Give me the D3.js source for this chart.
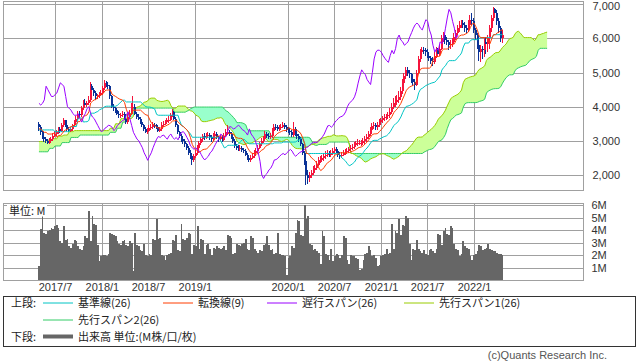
<!DOCTYPE html>
<html>
<head>
<meta charset="utf-8">
<script src="https://cdn.jsdelivr.net/npm/d3@7"></script>
<style>
body { margin: 0; background: #fff; }
svg { display: block; font-family: "Noto Sans CJK JP", "Noto Sans", sans-serif; }
</style>
</head>
<body>
<script>
// weekly bars, first bar week of 2017/4/29
var firstWeek = new Date(2017, 3, 29);
var firstOpen = 3500;

var closes = [
3400,3250,3100,3050,3000,2950,3000,3050,3150,3200,
3250,3350,3300,3450,3600,3450,3350,3300,3350,3450,
3550,3650,3800,3750,3950,4100,4050,4100,4200,4600,
4500,4400,4300,4300,4350,4400,4550,4700,4650,4600,
4300,4000,3950,3900,3800,3750,3750,3800,3650,3550,
3700,3800,3950,4000,3800,3700,3650,3550,3450,3350,
3270,3300,3370,3400,3460,3440,3400,3300,3350,3450,
3500,3550,3600,3620,3750,3850,3650,3450,3250,3150,
3050,3000,2900,2800,2650,2550,2430,2550,2650,2800,
2930,3050,3130,3100,3150,3170,3100,3050,3150,3200,
3100,3050,3100,3030,3150,3250,3270,3200,3100,3000,
2850,2800,2750,2800,2730,2700,2600,2500,2440,2500,
2550,2650,2700,2800,2900,3000,3050,3200,3150,3100,
3130,3300,3420,3400,3350,3370,3420,3460,3400,3330,
3300,3250,3170,3350,3200,3130,3050,2900,2650,2400,
2000,1900,2000,2050,2150,2200,2300,2440,2450,2490,
2550,2600,2630,2590,2650,2700,2750,2700,2600,2550,
2600,2650,2680,2700,2750,2800,2830,2880,2930,2950,
2950,2950,3000,3050,3120,3200,3320,3440,3450,3400,
3450,3550,3600,3660,3700,3720,3760,3850,4000,4100,
4150,4200,4290,4450,4690,4900,5080,5000,4950,4800,
4720,4650,5000,5400,5600,5660,5650,5600,5500,5420,
5350,5300,5500,5650,5550,5700,6000,6100,5950,5900,
5800,5850,5900,6050,6170,6300,6400,6450,6400,6300,
6250,6400,6550,6500,6250,6100,5800,5600,5700,5650,
5900,5850,6000,6300,6600,6850,6750,6500,6300,6000,6100
];

var highs = [
3550,3450,3300,3150,3100,3050,3080,3120,3220,3280,
3320,3420,3400,3520,3680,3620,3500,3400,3420,3500,
3600,3720,3880,3870,4020,4200,4220,4180,4300,4720,
4680,4560,4450,4380,4430,4480,4620,4780,4760,4720,
4650,4350,4080,4000,3950,3860,3830,3880,3850,3700,
3780,3900,4100,4300,4080,3850,3780,3700,3600,3500,
3400,3380,3450,3480,3550,3530,3500,3450,3420,3560,
3580,3620,3680,3720,3830,3920,3880,3700,3500,3300,
3200,3120,3050,2950,2850,2720,2600,2620,2720,2880,
3000,3120,3200,3220,3230,3250,3230,3160,3220,3300,
3250,3150,3180,3170,3230,3350,3450,3330,3250,3150,
3050,2920,2870,2880,2850,2800,2750,2650,2560,2580,
2630,2720,2780,2880,2980,3080,3130,3280,3260,3220,
3220,3380,3500,3500,3460,3450,3500,3550,3520,3460,
3420,3380,3330,3550,3420,3280,3200,3100,2950,2700,
2450,2150,2100,2150,2250,2300,2400,2520,2550,2580,
2650,2700,2720,2700,2730,2780,2820,2810,2750,2660,
2680,2730,2760,2780,2830,2880,2920,2960,3010,3040,
3030,3030,3080,3130,3200,3300,3400,3520,3550,3520,
3540,3630,3680,3740,3780,3800,3850,3950,4100,4250,
4300,4350,4450,4580,4800,5000,5160,5150,5080,5000,
4870,4800,5080,5500,5700,5750,5760,5720,5680,5580,
5500,5450,5600,5750,5720,5800,6100,6200,6150,6050,
5950,5950,6000,6150,6250,6400,6500,6550,6550,6480,
6400,6550,6700,6750,6600,6300,6150,5850,5800,5780,
6000,6000,6100,6400,6700,6920,6900,6830,6600,6350,6250
];

var lows = [
3300,3180,3050,2980,2950,2900,2900,2960,3000,3100,
3150,3200,3230,3260,3400,3400,3300,3250,3250,3300,
3400,3500,3600,3680,3700,3900,3980,3980,4050,4150,
4420,4320,4200,4220,4250,4300,4350,4500,4580,4520,
4220,3950,3880,3820,3750,3680,3660,3700,3600,3500,
3500,3650,3750,3900,3750,3650,3600,3500,3400,3300,
3220,3200,3250,3320,3350,3380,3350,3250,3250,3300,
3400,3450,3500,3530,3580,3700,3600,3400,3200,3080,
2980,2920,2820,2720,2600,2480,2290,2380,2500,2600,
2750,2880,2980,3030,3050,3080,3030,2980,3000,3100,
3050,2980,3000,2980,3000,3100,3180,3150,3050,2950,
2800,2730,2700,2700,2680,2650,2550,2440,2380,2390,
2460,2500,2600,2650,2750,2850,2950,3000,3080,3050,
3050,3080,3250,3330,3280,3300,3320,3370,3340,3270,
3230,3180,3100,3100,3150,3050,2980,2850,2600,2300,
1710,1750,1800,1920,2000,2080,2150,2250,2350,2380,
2420,2480,2530,2520,2540,2600,2640,2630,2540,2480,
2500,2550,2580,2610,2640,2700,2720,2770,2820,2850,
2870,2860,2880,2920,2980,3050,3150,3250,3350,3320,
3330,3400,3480,3530,3580,3620,3650,3680,3780,3920,
4000,4050,4100,4200,4380,4600,4800,4900,4850,4700,
4600,4500,4600,4950,5300,5500,5550,5500,5420,5330,
5250,5180,5250,5420,5450,5480,5650,5900,5850,5800,
5650,5700,5750,5850,5950,6100,6200,6300,6300,6200,
6150,6180,6350,6400,6150,5950,5700,5350,5300,5400,
5450,5550,5600,5700,6200,6500,6600,6400,6150,5900,5860
];

// volume, million shares per week
var volumes = [
1.1,4.1,5.2,3.8,3.7,3.9,4.0,4.2,4.1,4.3,
4.4,4.2,3.1,3.0,4.3,3.2,3.3,2.7,2.6,2.9,
3.2,3.1,2.7,2.5,2.4,2.7,3.5,3.4,5.5,3.1,
5.1,4.5,4.4,2.8,1.5,1.9,2.0,2.0,1.9,2.1,
3.8,3.7,3.6,3.5,3.1,2.9,2.8,3.1,3.2,2.8,
2.7,3.1,3.0,0.7,3.8,2.8,2.7,2.4,2.3,2.9,
2.0,1.9,2.1,2.0,3.3,3.2,4.9,3.3,3.4,2.0,
1.9,1.6,2.0,2.1,2.2,3.2,3.1,3.6,2.4,2.3,
4.5,3.3,3.2,3.4,3.8,3.7,2.1,2.8,2.7,4.3,
2.5,3.3,3.2,2.1,2.8,2.9,2.5,2.0,2.6,2.5,
2.7,2.6,2.5,2.6,2.7,2.4,3.6,3.5,3.4,2.1,
2.2,2.9,2.8,2.7,2.9,3.0,3.3,2.5,2.4,3.5,
3.4,2.5,2.3,2.2,2.4,2.3,2.8,2.9,3.5,2.8,
2.4,2.5,2.1,2.2,3.8,2.1,2.0,2.0,1.9,0.4,
1.8,1.9,2.7,2.6,3.8,4.8,4.7,3.6,3.5,6.0,
4.9,5.1,2.9,2.8,2.4,2.5,2.3,2.2,1.3,3.9,
3.5,2.1,2.0,1.6,2.5,1.5,1.9,2.1,2.0,1.8,
2.0,3.5,3.4,1.6,1.3,2.0,1.9,1.9,1.8,1.7,
0.8,0.9,1.6,2.1,2.2,2.7,2.4,1.9,2.0,1.8,
1.1,1.2,1.9,2.0,2.1,2.5,2.1,2.2,4.5,2.5,
3.9,3.8,4.9,3.6,4.4,4.3,5.1,5.0,2.9,1.6,
2.5,2.4,3.2,2.5,2.3,2.2,2.4,2.1,2.0,2.4,
2.5,2.3,2.2,2.5,3.7,3.6,2.8,3.9,4.2,3.7,
3.6,4.3,4.2,2.9,2.5,2.4,1.9,2.1,3.1,2.7,
2.6,2.5,1.9,1.6,2.0,2.1,2.3,2.8,2.7,2.4,
2.5,2.6,2.9,2.5,2.4,2.3,2.3,2.2,2.1,2.1,2.0
];

// indicator values before enough history exists on the chart
var tenkanHead = [3350,3350,3300,3250,3250,3200,3200,3200];
var kijunHead = [3320,3320,3320,3320,3320,3320,3320,3320,3320,
  3270,3270,3270,3270,3270,3270,3270,3270,3270,
  3420,3420,3420,3420,3670,3670,3670];
var span1Head = [2980,2980,2980,2980,3020,3020,3020,3020,3060,3060,
  3060,3140,3140,3140,3170,3170,3170,3270,3270,3270,
  3300,3300,3300,3300,3300,3300,3300,3300,3300,3300,
  3300,3300,3300,3300,3300,3300,3300,3300,3300,3300,
  3370,3370,3370,3500,3500,3500,3650,3650,3650,3650];
var span2Head = [2680,2680,2680,2680,2680,2680,2780,2780,2780,2850,
  2850,2850,2850,2950,2950,2950,2950,2950,3100,3100,
  3100,3100,3100,3170,3170,3170,3170,3170,3170,3170,
  3170,3170,3170,3170,3170,3170,3170,3170,3170,3170,
  3250,3250,3250,3250,3370,3370,3370,3550,3550,3550,
  3800,3800,3800,3960,3960,3960,3960,3960,3960,3960,
  3960,3960,3960,3960,3960,3960,3960,3960,3960,3960,
  3960,3960,3960,3960,3960,3960];

var priceTicks = [2000, 3000, 4000, 5000, 6000, 7000];
var volTicks = [1, 2, 3, 4, 5, 6];
var dateTicks = ["2017/7", "2018/1", "2018/7", "2019/1", "2020/1", "2020/7", "2021/1", "2021/7", "2022/1"];
var legendNames = ["基準線(26)", "転換線(9)", "遅行スパン(26)", "先行スパン1(26)", "先行スパン2(26)", "出来高 単位:(M株/口/枚)"];

var colKijun = "#00c4c4", colTenkan = "#ff3c00", colChikou = "#9a00ff",
    colSpan1 = "#99cc00", colSpan2 = "#33cc66",
    colUp = "#f5143c", colDown = "#0a3296", colVol = "#666666", colGrid = "#a0a0a0";

var w = 638, h = 362;
var left = 3.5, right = 583.5;
var mainTop = 1.5, mainBottom = 190.5, volTop = 203.5, volBottom = 280.5;
var numFont = "'Liberation Sans', Arial, sans-serif";

var svg = d3.select("body").append("svg").attr("width", w).attr("height", h);

var n = closes.length;
var shift = 25;
function weekDate(k) { return d3.timeDay.offset(firstWeek, 7 * k); }

var x = d3.scaleTime()
  .domain([new Date(2017, 6, 1), new Date(2022, 0, 1)])
  .range([55, 474]);
var y = d3.scaleLinear().domain([2000, 7000]).range([175, 4.3]);
var yv = d3.scaleLinear().domain([0, 6]).range([280.2, 205]);

var opens = closes.map(function(c, i) { return i === 0 ? firstOpen : closes[i - 1]; });

function midRange(i, len) {
  var hi = d3.max(highs.slice(i - len + 1, i + 1));
  var lo = d3.min(lows.slice(i - len + 1, i + 1));
  return (hi + lo) / 2;
}
var tenkan = d3.range(n).map(function(i) { return i < 8 ? tenkanHead[i] : midRange(i, 9); });
var kijun = d3.range(n).map(function(i) { return i < 25 ? kijunHead[i] : midRange(i, 26); });
var cloud = d3.range(n + shift).map(function(k) {
  var i = k - shift;
  var s1 = i < 25 ? span1Head[k] : (tenkan[i] + kijun[i]) / 2;
  var s2 = i < 51 ? span2Head[k] : midRange(i, 52);
  return { k: k, s1: s1, s2: s2 };
});
var chikou = d3.range(n - shift).map(function(k) { return closes[k + shift]; });

// panels
var tickDates = dateTicks.map(function(s) {
  var p = s.split("/");
  return new Date(+p[0], +p[1] - 1, 1);
});

svg.append("rect").attr("x", left).attr("y", mainTop)
  .attr("width", right - left).attr("height", mainBottom - mainTop)
  .attr("fill", "#fff").attr("stroke", colGrid);
svg.append("rect").attr("x", left).attr("y", volTop)
  .attr("width", right - left).attr("height", volBottom - volTop)
  .attr("fill", "#fff").attr("stroke", colGrid);

function styleAxis(g) {
  g.select(".domain").remove();
  g.selectAll(".tick line").attr("stroke", colGrid).attr("shape-rendering", "crispEdges");
  g.selectAll(".tick text").attr("fill", "#333").style("font-size", "11px")
    .style("font-family", numFont);
}

svg.append("g").attr("transform", "translate(0," + mainBottom + ")")
  .call(d3.axisBottom(x).tickValues(tickDates).tickFormat("").tickSize(-(mainBottom - mainTop)))
  .call(styleAxis);
svg.append("g").attr("transform", "translate(0," + volBottom + ")")
  .call(d3.axisBottom(x).tickValues(tickDates)
    .tickFormat(function(d, i) { return dateTicks[i]; })
    .tickSize(-(volBottom - volTop)).tickPadding(3))
  .call(styleAxis);
var priceAxis = svg.append("g").attr("transform", "translate(" + right + ",0)")
  .call(d3.axisRight(y).tickValues(priceTicks).tickFormat(d3.format(","))
    .tickSize(-(right - left)).tickPadding(9))
  .call(styleAxis);
// keep the top label inside the picture
priceAxis.selectAll(".tick text").filter(function(d) { return d === 7000; }).attr("dy", "0.5em");
svg.append("g").attr("transform", "translate(" + right + ",0)")
  .call(d3.axisRight(yv).tickValues(volTicks).tickFormat(function(d) { return d + "M"; })
    .tickSize(-(right - left)).tickPadding(8))
  .call(styleAxis);

// main panel content
svg.append("clipPath").attr("id", "clipMain").append("rect")
  .attr("x", left).attr("y", mainTop).attr("width", right - left).attr("height", mainBottom - mainTop);
var main = svg.append("g").attr("clip-path", "url(#clipMain)");

function cx(k) { return x(weekDate(k)); }

var upArea = d3.area()
  .x(function(d) { return cx(d.k); })
  .y0(function(d) { return y(d.s2); })
  .y1(function(d) { return y(Math.max(d.s1, d.s2)); });
var downArea = d3.area()
  .x(function(d) { return cx(d.k); })
  .y0(function(d) { return y(d.s1); })
  .y1(function(d) { return y(Math.max(d.s1, d.s2)); });
main.append("path").datum(cloud).attr("d", upArea).attr("fill", "#ccff99");
main.append("path").datum(cloud).attr("d", downArea).attr("fill", "#99ffcc");

var lineOf = function(get) {
  return d3.line().x(function(d, i) { return cx(i); }).y(function(d) { return y(get(d)); });
};
function drawLine(data, get, color) {
  main.append("path").datum(data).attr("d", lineOf(get))
    .attr("fill", "none").attr("stroke", color).attr("stroke-width", 1);
}
drawLine(cloud, function(d) { return d.s2; }, colSpan2);
drawLine(cloud, function(d) { return d.s1; }, colSpan1);

// candles
var candles = main.append("g").attr("shape-rendering", "crispEdges");
var idx = d3.range(n);
candles.selectAll(".wick").data(idx).enter().append("rect")
  .attr("x", function(i) { return Math.round(cx(i)) - 1; })
  .attr("y", function(i) { return y(highs[i]); })
  .attr("width", 1)
  .attr("height", function(i) { return Math.max(1, y(lows[i]) - y(highs[i])); })
  .attr("fill", function(i) { return closes[i] >= opens[i] ? colUp : colDown; });
candles.selectAll(".body").data(idx).enter().append("rect")
  .attr("x", function(i) { return Math.round(cx(i)) - 1; })
  .attr("y", function(i) { return y(Math.max(opens[i], closes[i])); })
  .attr("width", 2)
  .attr("height", function(i) { return Math.max(1, Math.abs(y(opens[i]) - y(closes[i]))); })
  .attr("fill", function(i) { return closes[i] >= opens[i] ? colUp : colDown; });

drawLine(kijun, function(d) { return d; }, colKijun);
drawLine(tenkan, function(d) { return d; }, colTenkan);
drawLine(chikou, function(d) { return d; }, colChikou);

// volume bars
var half = (cx(1) - cx(0)) / 2;
svg.append("g").attr("shape-rendering", "crispEdges")
  .selectAll("rect").data(volumes).enter().append("rect")
  .attr("x", function(d, i) { return Math.round(cx(i) - half); })
  .attr("width", function(d, i) { return Math.round(cx(i + 1) - half) - Math.round(cx(i) - half); })
  .attr("y", function(d) { return yv(d); })
  .attr("height", function(d) { return yv(0) - yv(d); })
  .attr("fill", colVol);

svg.append("rect").attr("x", 7).attr("y", 204.5).attr("width", 40).attr("height", 12).attr("fill", "#fff");
svg.append("text").attr("x", 9).attr("y", 214.5).text("単位: M")
  .style("font-size", "11px").attr("fill", "#222");

// legend
var lg = svg.append("g").style("font-size", "11px").attr("fill", "#222");
lg.append("rect").attr("x", 3.5).attr("y", 296.5).attr("width", 632).attr("height", 50)
  .attr("fill", "none").attr("stroke", "#333");
var rowY = [303, 320, 336.5];
var legendItems = [
  { row: 0, x: 43, color: colKijun, name: legendNames[0], sw: 1 },
  { row: 0, x: 163, color: colTenkan, name: legendNames[1], sw: 1 },
  { row: 0, x: 267, color: colChikou, name: legendNames[2], sw: 1 },
  { row: 0, x: 404, color: colSpan1, name: legendNames[3], sw: 1 },
  { row: 1, x: 43, color: colSpan2, name: legendNames[4], sw: 1 },
  { row: 2, x: 43, color: colVol, name: legendNames[5], sw: 4 }
];
lg.append("text").attr("x", 11).attr("y", rowY[0] + 4).text("上段:");
lg.append("text").attr("x", 11).attr("y", rowY[2] + 4).text("下段:");
legendItems.forEach(function(it) {
  lg.append("line").attr("x1", it.x).attr("x2", it.x + 30)
    .attr("y1", rowY[it.row]).attr("y2", rowY[it.row])
    .attr("stroke", it.color).attr("stroke-width", it.sw);
  lg.append("text").attr("x", it.x + 35).attr("y", rowY[it.row] + 4).text(it.name);
});

svg.append("text").attr("x", 607).attr("y", 359).attr("text-anchor", "end")
  .style("font-size", "11px").style("font-family", numFont)
  .attr("fill", "#555").text("(c)Quants Research Inc.");
</script>
</body>
</html>
